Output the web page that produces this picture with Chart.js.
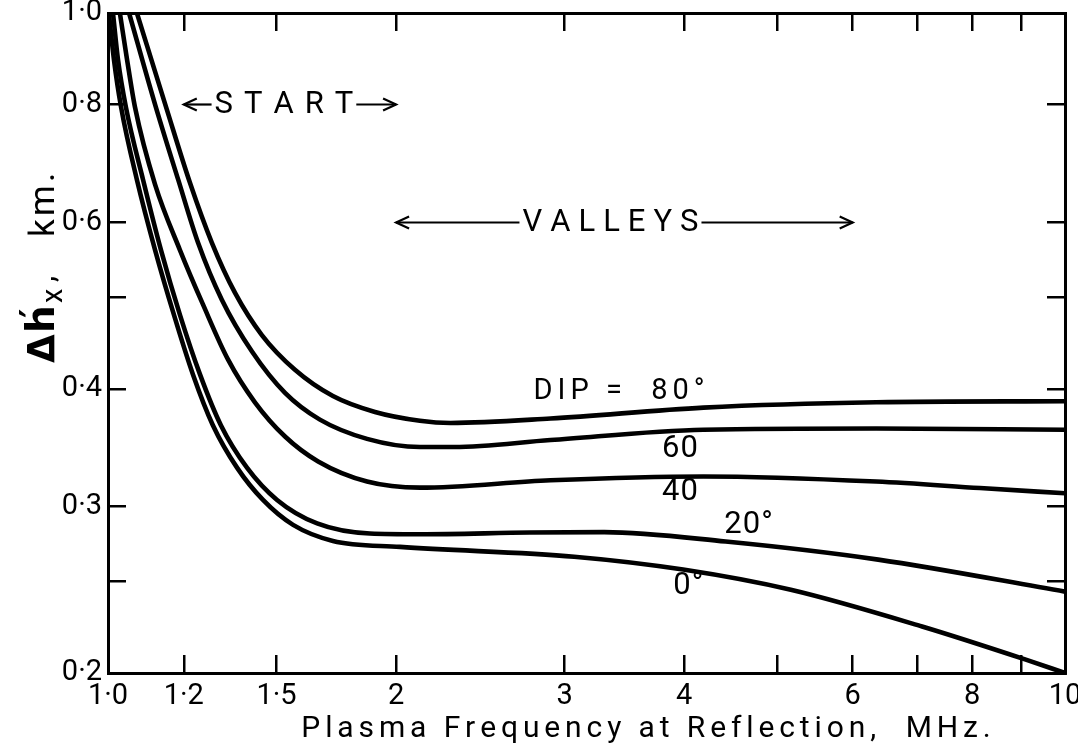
<!DOCTYPE html>
<html><head><meta charset="utf-8">
<script src="https://cdn.jsdelivr.net/npm/chart.js@4.4.1/dist/chart.umd.min.js"></script>
<style>html,body{margin:0;padding:0;background:#fff;} canvas{display:block;}</style>
</head><body>
<canvas id="c" width="1078" height="746"></canvas>
<script>
// ---- data (plasma frequency MHz, delta h'x km) ----
const freq0  = [1.002, 1.0145, 1.032, 1.072, 1.120, 1.172, 1.227, 1.287, 1.364, 1.452, 1.561, 1.718, 2.019, 3.07, 3.99, 5.17, 7.09, 9.1, 10];
const dh0    = [1.0, 0.892, 0.795, 0.666, 0.561, 0.479, 0.414, 0.366, 0.330, 0.305, 0.287, 0.276, 0.272, 0.2656, 0.2574, 0.245, 0.224, 0.2066, 0.2];
const freq20 = [1.012, 1.0244, 1.044, 1.088, 1.136, 1.189, 1.248, 1.312, 1.397, 1.502, 1.654, 1.878, 2.118, 2.76, 3.3, 4.42, 6.38, 10];
const dh20   = [1.0, 0.892, 0.795, 0.666, 0.561, 0.479, 0.414, 0.366, 0.330, 0.305, 0.288, 0.281, 0.2805, 0.2817, 0.282, 0.2756, 0.2637, 0.2439];
const freq40 = [1.029, 1.047, 1.067, 1.120, 1.189, 1.257, 1.335, 1.424, 1.531, 1.658, 1.865, 2.118, 2.9, 4.19, 6.35, 8.15, 10];
const dh40   = [1.0, 0.892, 0.795, 0.658, 0.561, 0.491, 0.4294, 0.387, 0.356, 0.335, 0.319, 0.3143, 0.320, 0.323, 0.319, 0.314, 0.310];
const freq60 = [1.052, 1.122, 1.184, 1.242, 1.315, 1.414, 1.531, 1.665, 1.865, 2.118, 2.3, 2.9, 4.19, 6.35, 10];
const dh60   = [1.0, 0.795, 0.666, 0.571, 0.497, 0.438, 0.396, 0.371, 0.354, 0.347, 0.347, 0.353, 0.362, 0.363, 0.362];
const freq80 = [1.072, 1.150, 1.218, 1.284, 1.358, 1.448, 1.568, 1.718, 1.901, 2.118, 2.28, 2.9, 4.19, 6.35, 10];
const dh80   = [1.0, 0.795, 0.661, 0.571, 0.505, 0.456, 0.419, 0.393, 0.378, 0.370, 0.368, 0.372, 0.382, 0.387, 0.388];

const xTickValues = [1, 1.2, 1.5, 2, 3, 4, 5, 6, 7, 8, 9, 10];
const xTickLabels = ['1·0', '1·2', '1·5', '2', '3', '4', '', '6', '', '8', '', '10'];
const yTickValues = [0.2, 0.25, 0.3, 0.4, 0.5, 0.6, 0.8, 1.0];
const yTickLabels = ['0·2', '', '0·3', '0·4', '', '0·6', '0·8', '1·0'];

const curveLabels = ['0°', '20°', '40', '60', 'DIP =  80°'];
const labelFreq   = [4.04, 4.67, 3.96, 3.96, 3.42];
const labelDh     = [0.247, 0.287, 0.311, 0.345, 0.397];

const arrowTexts  = ['START', 'VALLEYS'];
const arrowFrom   = [1.2, 2];
const arrowTo     = [2, 6];
const arrowTextAt = [1.527, 3.35];
const arrowDh     = [0.8, 0.6];

const xTitle = 'Plasma Frequency at Reflection,  MHz.';

// ---- build ----
const series = [[freq0, dh0], [freq20, dh20], [freq40, dh40], [freq60, dh60], [freq80, dh80]];
const datasets = series.map(([f, d]) => ({
  data: f.map((v, i) => ({x: v, y: d[i]})),
  borderColor: '#000', borderWidth: 4.6, pointRadius: 0, fill: false,
  cubicInterpolationMode: 'monotone', borderCapStyle: 'round', borderJoinStyle: 'round'
}));

const TICK_FONT = {family: 'Roboto', size: 29, weight: '400'};
const gridOpts = {drawOnChartArea: false, drawTicks: true, tickLength: -18, tickWidth: 2.5, tickColor: '#000', color: '#000', lineWidth: 2.5};
const borderOpts = {display: true, color: '#000', width: 3};

function setX(s) { s.ticks = xTickValues.map(v => ({value: v})); }
function setY(s) { s.ticks = yTickValues.map(v => ({value: v})); }
function noPad(s) { s.paddingTop = 0; s.paddingBottom = 0; s.paddingLeft = 0; s.paddingRight = 0; }

function spacedText(ctx, text, x, y, spacing, align) {
  const ws = [...text].map(ch => ctx.measureText(ch).width);
  const w = ws.reduce((a, b) => a + b, 0) + spacing * (ws.length - 1);
  let cx = align === 'center' ? x - w / 2 : x;
  const start = cx;
  ctx.textAlign = 'left';
  [...text].forEach((ch, i) => { ctx.fillText(ch, cx, y); cx += ws[i] + spacing; });
  return [start, start + w];
}

function arrowHead(ctx, x, y, dir) {
  ctx.beginPath();
  ctx.moveTo(x - dir * 13, y - 6);
  ctx.lineTo(x, y);
  ctx.lineTo(x - dir * 13, y + 6);
  ctx.stroke();
}

const arrowSpacing = [11, 8];

const textPlugin = {
  id: 'texts',
  afterDraw(chart) {
    const ctx = chart.ctx, xs = chart.scales.x, ys = chart.scales.y;
    ctx.save();
    ctx.fillStyle = '#000'; ctx.strokeStyle = '#000';
    ctx.font = '400 31px Roboto';
    ctx.textBaseline = 'middle';
    arrowTexts.forEach((t, i) => {
      const y = ys.getPixelForValue(arrowDh[i]);
      const cx = xs.getPixelForValue(arrowTextAt[i]);
      const [a, b] = spacedText(ctx, t, cx, y + 1, arrowSpacing[i], 'center');
      const x0 = xs.getPixelForValue(arrowFrom[i]);
      const x1 = xs.getPixelForValue(arrowTo[i]);
      ctx.lineWidth = 2.2;
      ctx.beginPath(); ctx.moveTo(x0, y); ctx.lineTo(a - 3, y); ctx.stroke();
      ctx.beginPath(); ctx.moveTo(b + 3, y); ctx.lineTo(x1, y); ctx.stroke();
      arrowHead(ctx, x0, y, -1);
      arrowHead(ctx, x1, y, 1);
    });
    curveLabels.forEach((t, i) => {
      ctx.font = i === 4 ? '400 29px Roboto' : '400 31px Roboto';
      spacedText(ctx, t, xs.getPixelForValue(labelFreq[i]), ys.getPixelForValue(labelDh[i]), i === 4 ? 5 : 1, 'center');
    });
    ctx.font = '400 30px Roboto';
    ctx.textBaseline = 'alphabetic';
    const plain = ctx.measureText(xTitle).width;
    const sp = (688 - plain) / (xTitle.length - 1);
    spacedText(ctx, xTitle, 646, 737, sp, 'center');
    // rotated y title: pieces at offsets along the (upward) text direction
    const pieces = [
      {t: 'Δ', f: 'bold 37px "DejaVu Sans"', at: 0, dy: 0},
      {t: 'h', f: 'bold 39px "DejaVu Sans"', at: 30, dy: 0},
      {t: '′', f: 'bold 36px "DejaVu Sans"', at: 45, dy: -9},
      {t: 'x', f: '400 29px Roboto', at: 60, dy: 8},
      {t: ',', f: '400 32px Roboto', at: 81, dy: 0},
      {t: 'k', f: '400 35px Roboto', at: 126, dy: 0},
      {t: 'm', f: '400 35px Roboto', at: 147, dy: 0},
      {t: '.', f: '400 35px Roboto', at: 181, dy: 0}
    ];
    ctx.translate(54, 363);
    ctx.rotate(-Math.PI / 2);
    ctx.textAlign = 'left';
    pieces.forEach(p => { ctx.font = p.f; ctx.fillText(p.t, p.at, p.dy); });
    ctx.restore();
  }
};

new Chart(document.getElementById('c'), {
  type: 'line',
  data: {datasets},
  plugins: [textPlugin],
  options: {
    responsive: false, animation: false, devicePixelRatio: 1,
    layout: {padding: 0},
    plugins: {legend: {display: false}, tooltip: {enabled: false}, title: {display: false}},
    scales: {
      x: {type: 'logarithmic', position: 'bottom', min: 1, max: 10,
          afterBuildTicks: setX,
          afterFit: s => { s.height = 73; noPad(s); },
          ticks: {autoSkip: false, maxRotation: 0, padding: 24, color: '#000', font: TICK_FONT,
                  callback: (v, i) => xTickLabels[i]},
          grid: gridOpts, border: borderOpts},
      x2: {type: 'logarithmic', position: 'top', min: 1, max: 10,
          afterBuildTicks: setX,
          afterFit: s => { s.height = 13; noPad(s); },
          ticks: {display: false, autoSkip: false},
          grid: gridOpts, border: borderOpts},
      y: {type: 'logarithmic', position: 'left', min: 0.2, max: 1.0,
          afterBuildTicks: setY,
          afterFit: s => { s.width = 108; noPad(s); },
          ticks: {autoSkip: false, padding: 24, color: '#000', font: TICK_FONT,
                  callback: (v, i) => yTickLabels[i]},
          grid: gridOpts, border: borderOpts},
      y2: {type: 'logarithmic', position: 'right', min: 0.2, max: 1.0,
          afterBuildTicks: setY,
          afterFit: s => { s.width = 13; noPad(s); },
          ticks: {display: false, autoSkip: false},
          grid: gridOpts, border: borderOpts}
    }
  }
});
</script>
</body></html>
